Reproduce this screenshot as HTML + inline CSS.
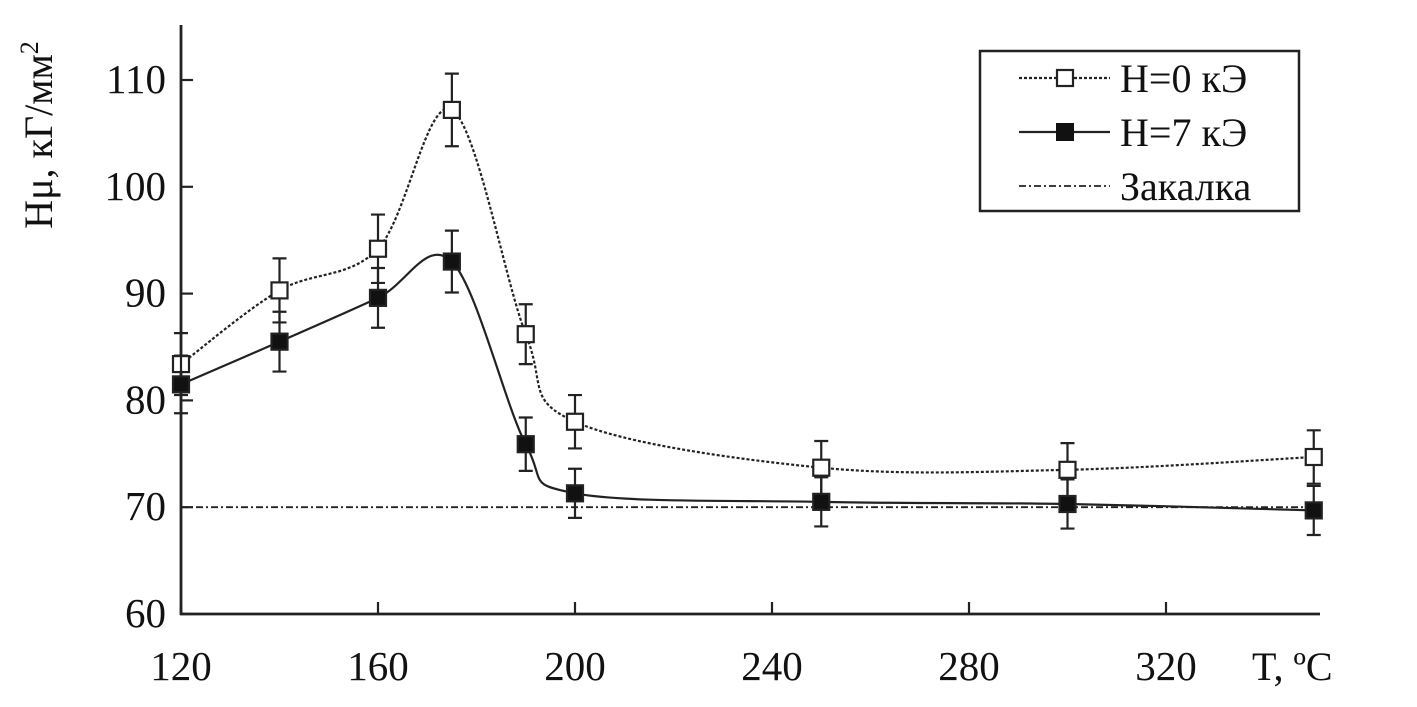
<!DOCTYPE html>
<html><head><meta charset="utf-8"><style>
html,body{margin:0;padding:0;background:#fff}
svg{display:block}
text{font-family:"Liberation Serif",serif;fill:#111}
</style></head><body>
<svg id="chart" width="1417" height="707" viewBox="0 0 1417 707" xmlns="http://www.w3.org/2000/svg">
<g id="axes"></g>
<g id="series"></g>
<g id="legend">
<rect x="980" y="51" width="319" height="160" fill="#fff" stroke="#222" stroke-width="2.5"/>
<line x1="1019" y1="78" x2="1110" y2="78" stroke="#222" stroke-width="2.2" stroke-dasharray="3,2"/>
<rect x="1057" y="70" width="16" height="16" fill="#fff" stroke="#222" stroke-width="2.2"/>
<text x="1120" y="92" font-size="40">H=0 кЭ</text>
<line x1="1019" y1="132" x2="1110" y2="132" stroke="#222" stroke-width="2.2"/>
<rect x="1057" y="124" width="16" height="16" fill="#111" stroke="#111" stroke-width="2"/>
<text x="1120" y="146" font-size="40">H=7 кЭ</text>
<line x1="1019" y1="186" x2="1110" y2="186" stroke="#222" stroke-width="1.8" stroke-dasharray="7,3,2,3"/>
<text x="1120" y="200" font-size="40">Закалка</text>
</g>
<text transform="translate(52,135) rotate(-90)" text-anchor="middle" font-size="40">Hμ, кГ/мм<tspan dy="-14" font-size="26">2</tspan></text>
<text x="1252" y="680" font-size="40">T, ºC</text>
</svg>
<script>
const xTicks=[120,160,200,240,280,320];
const yTicks=[60,70,80,90,100,110];
const temps=[120,140,160,175,190,200,250,300,350];
const h0=[83.4,90.3,94.2,107.2,86.2,78.0,73.7,73.5,74.7];
const h0err=[2.9,3.0,3.2,3.4,2.8,2.5,2.5,2.5,2.5];
const h7=[81.5,85.5,89.6,93.0,75.9,71.3,70.5,70.3,69.7];
const h7err=[2.7,2.8,2.8,2.9,2.5,2.3,2.3,2.3,2.3];
const quench=[70];
const NS="http://www.w3.org/2000/svg";
const X=v=>181+(v-120)*4.925;
const Y=v=>614-(v-60)*10.68;
function mk(tag,attrs,parent){const e=document.createElementNS(NS,tag);for(const k in attrs)e.setAttribute(k,attrs[k]);parent.appendChild(e);return e;}
const ax=document.getElementById('axes'),sr=document.getElementById('series');
let e=mk('line',{x1:181,y1:25,x2:181,y2:615,stroke:'#222','stroke-width':2.8},ax);

e=mk('line',{x1:180,y1:614,x2:1320,y2:614,stroke:'#222','stroke-width':2.8},ax);

xTicks.forEach(t=>{
 const l=mk('line',{x1:X(t),y1:614,x2:X(t),y2:602,stroke:'#222','stroke-width':2.2},ax);
 
 const tx=mk('text',{x:X(t),y:680,'text-anchor':'middle','font-size':41},ax);tx.textContent=t;
 
});
yTicks.forEach(t=>{
 const l=mk('line',{x1:181,y1:Y(t),x2:193,y2:Y(t),stroke:'#222','stroke-width':2.2},ax);
 
 const tx=mk('text',{x:166,y:Y(t)+13,'text-anchor':'end','font-size':41},ax);tx.textContent=t;
 
});
e=mk('line',{x1:181,y1:Y(quench[0]),x2:1320,y2:Y(quench[0]),stroke:'#222','stroke-width':1.8,'stroke-dasharray':'7,3,2,3'},sr);

function spline(xs,ys){
 const p=xs.map((x,i)=>[X(x),Y(ys[i])]);let d='M'+p[0][0]+','+p[0][1];
 for(let i=0;i<p.length-1;i++){const p0=p[Math.max(i-1,0)],p1=p[i],p2=p[i+1],p3=p[Math.min(i+2,p.length-1)];const t=6;
 d+=` C${p1[0]+(p2[0]-p0[0])/t},${p1[1]+(p2[1]-p0[1])/t} ${p2[0]-(p3[0]-p1[0])/t},${p2[1]-(p3[1]-p1[1])/t} ${p2[0]},${p2[1]}`;}
 return d;}
function series(vals,errs,name,dash,fill){
 const pth=mk('path',{d:spline(temps,vals),fill:'none',stroke:'#222','stroke-width':2.2,'stroke-dasharray':dash},sr);
 
 temps.forEach((t,i)=>{
  const x=X(t),y1=Y(vals[i]+errs[i]),y2=Y(vals[i]-errs[i]);
  const eb=mk('path',{d:`M${x},${y1}V${y2}M${x-7},${y1}H${x+7}M${x-7},${y2}H${x+7}`,stroke:'#222','stroke-width':2.2,fill:'none'},sr);
  
 });
 temps.forEach((t,i)=>{
  const r=mk('rect',{x:X(t)-8,y:Y(vals[i])-8,width:16,height:16,fill:fill,stroke:'#222','stroke-width':2.2},sr);
  
 });
}
series(h0,h0err,'h0','3,2','#fff');
series(h7,h7err,'h7','none','#111');
</script>
</body></html>
